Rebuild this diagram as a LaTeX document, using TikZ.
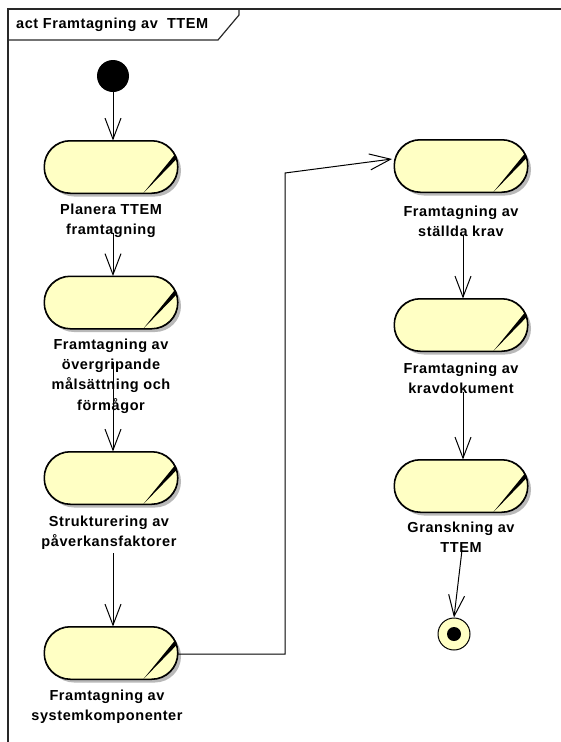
\documentclass[tikz,border=0pt]{standalone}
\usepackage{fontspec}
\setmainfont{Liberation Sans}
\newfontfamily\lblfont{Liberation Sans}[LetterSpace=4]
\usetikzlibrary{arrows.meta,calc,shadows}
\definecolor{actfill}{RGB}{255,255,196}
\definecolor{shadowgray}{RGB}{185,185,185}
\definecolor{framecol}{RGB}{40,40,40}

% action node: stadium with the black "activity" wedge at its right end
\newcommand\actwedge[1]{%
  \begin{scope}
    \clip[rounded corners=26pt] (#1.south west) rectangle (#1.north east);
    \fill ($(#1.south west)+(99,0)$) -- ($(#1.north east)+(1,9)$) -- ($(#1.north east)+(4,13)$) -- cycle;
  \end{scope}
  \draw[line width=1pt, rounded corners=26pt] (#1.south west) rectangle (#1.north east);
}

\begin{document}
\begin{tikzpicture}[x=1pt,y=-1pt,
  act/.style={draw=black, line width=1pt, fill=actfill, rounded corners=26pt,
    minimum width=133pt, minimum height=52pt, inner sep=0pt,
    drop shadow={shadow xshift=3.5pt, shadow yshift=-3.5pt, fill=shadowgray, opacity=1}},
  lbl/.style={align=center, inner sep=0pt, font=\lblfont\bfseries\fontsize{14.5pt}{20.3pt}\selectfont},
  flow/.style={draw=black, line width=1pt, -{Straight Barb[length=21pt,width=16pt]}},
  framestroke/.style={draw=framecol, line width=1.2pt}]

\useasboundingbox (0,0) rectangle (560,742);

% diagram frame with its name tab
\draw[framestroke] (562,9) -- (8,9) -- (8,744);
\draw[framestroke] (8,40) -- (218,40) -- (239,15) -- (239,9);
\node[anchor=west, inner sep=0pt, font=\lblfont\bfseries\fontsize{14.5pt}{16pt}\selectfont] (title) at (16,25) {act Framtagning av~~TTEM};

% initial and final nodes
\node[circle, fill=black, minimum size=32pt, inner sep=0pt] (start) at (113,76) {};
\node[circle, draw=black, line width=1pt, fill=actfill, minimum size=32pt, inner sep=0pt] (final) at (454,634) {};
\node[circle, fill=black, minimum size=14pt, inner sep=0pt] (finaldot) at (final.center) {};

% actions, left column
\node[act] (n1) at (111,167) {};
\node[act] (n2) at (111,302.5) {};
\node[act] (n3) at (111,478) {};
\node[act] (n4) at (111,653) {};
% actions, right column
\node[act] (n5) at (461,166) {};
\node[act] (n6) at (461,325) {};
\node[act] (n7) at (461,486) {};

\actwedge{n1}\actwedge{n2}\actwedge{n3}\actwedge{n4}
\actwedge{n5}\actwedge{n6}\actwedge{n7}

% action names
\node[lbl] (l1) at (111,221) {Planera TTEM\\framtagning};
\node[lbl] (l2) at (111,376) {Framtagning av\\övergripande\\målsättning och\\förmågor};
\node[lbl] (l3) at (109,533) {Strukturering av\\påverkansfaktorer};
\node[lbl] (l4) at (107,707) {Framtagning av\\systemkomponenter};
\node[lbl] (l5) at (461,221) {Framtagning av\\ställda krav};
\node[lbl] (l6) at (461,378) {Framtagning av\\kravdokument};
\node[lbl] (l7) at (461,537) {Granskning av\\TTEM};

% control flows
\coordinate (s1) at (113,233);
\coordinate (s2) at (113,362);
\coordinate (s3) at (113,553);
\coordinate (s5) at (463,235);
\coordinate (s6) at (463,392);
\coordinate (s7) at (462,550);
\coordinate (bend) at (285,654);

\draw[flow] (start.south) -- ([xshift=2pt]n1.north);
\draw[flow] (s1) -- ([xshift=2pt]n2.north);
\draw[flow] (s2) -- ([xshift=2pt]n3.north);
\draw[flow] (s3) -- ([xshift=2pt]n4.north);
\draw[flow] (n4.east |- bend) -- (bend) -- (bend |- 0,173) -- ([xshift=-2pt,yshift=7pt]n5.west);
\draw[flow] (s5) -- ([xshift=2pt]n6.north);
\draw[flow] (s6) -- ([xshift=2pt]n7.north);
\draw[flow] (s7) -- (final.north);
\end{tikzpicture}
\end{document}
